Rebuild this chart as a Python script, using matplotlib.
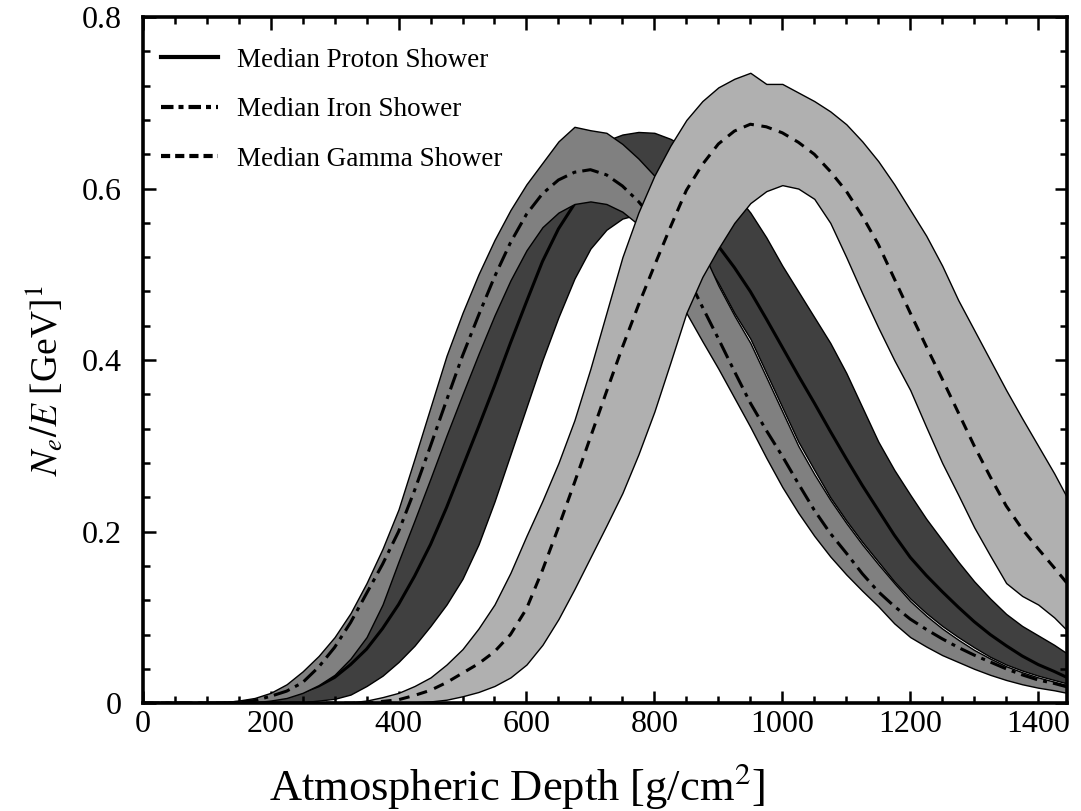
import matplotlib
matplotlib.use('Agg')
import matplotlib.pyplot as plt
from matplotlib.lines import Line2D
from matplotlib.ticker import MultipleLocator, FuncFormatter

plt.rcParams['font.family'] = ['Liberation Serif', 'DejaVu Serif']
plt.rcParams['mathtext.fontset'] = 'stix'

# atmospheric depth grid [g/cm^2]: 0, 100, 125, ..., 1425, 1445
depth = [0] + list(range(100, 1426, 25)) + [1445]

# proton showers
proton_lo = [0, 0, 0, 0, 0, 0, 0, 0.001, 0.003, 0.005, 0.01, 0.02, 0.032,
             0.048, 0.067, 0.09, 0.115, 0.145, 0.185, 0.235, 0.29, 0.345,
             0.4, 0.45, 0.495, 0.53, 0.552, 0.565, 0.57, 0.568, 0.56, 0.545,
             0.52, 0.49, 0.455, 0.425, 0.385, 0.345, 0.305, 0.272, 0.24,
             0.213, 0.188, 0.165, 0.142, 0.122, 0.105, 0.09, 0.077, 0.065,
             0.054, 0.045, 0.038, 0.032, 0.027, 0.023]
proton_hi = [0, 0, 0.001, 0.002, 0.003, 0.006, 0.011, 0.02, 0.03, 0.045,
             0.066, 0.095, 0.133, 0.178, 0.23, 0.283, 0.335, 0.385, 0.432,
             0.475, 0.517, 0.555, 0.585, 0.61, 0.63, 0.645, 0.656, 0.663,
             0.666, 0.665, 0.658, 0.648, 0.633, 0.615, 0.595, 0.572, 0.543,
             0.51, 0.48, 0.45, 0.42, 0.385, 0.345, 0.305, 0.272, 0.243, 0.215,
             0.19, 0.165, 0.142, 0.122, 0.104, 0.09, 0.079, 0.068, 0.058]
proton_med = [0, 0, 0, 0.001, 0.002, 0.004, 0.008, 0.013, 0.02, 0.03, 0.045,
              0.063, 0.087, 0.115, 0.148, 0.185, 0.228, 0.275, 0.322, 0.37,
              0.42, 0.468, 0.515, 0.553, 0.582, 0.601, 0.613, 0.618, 0.615,
              0.606, 0.592, 0.575, 0.556, 0.533, 0.508, 0.48, 0.448, 0.415,
              0.382, 0.35, 0.317, 0.285, 0.254, 0.225, 0.196, 0.17, 0.149,
              0.13, 0.112, 0.095, 0.08, 0.067, 0.055, 0.045, 0.037, 0.03]

# iron showers
iron_lo = [0, 0, 0, 0, 0.001, 0.003, 0.006, 0.012, 0.021, 0.033, 0.052,
           0.077, 0.115, 0.165, 0.213, 0.262, 0.312, 0.36, 0.407, 0.452,
           0.493, 0.528, 0.555, 0.572, 0.582, 0.585, 0.582, 0.573, 0.558,
           0.535, 0.498, 0.455, 0.422, 0.39, 0.356, 0.322, 0.286, 0.252,
           0.222, 0.195, 0.171, 0.15, 0.131, 0.113, 0.093, 0.077, 0.066,
           0.056, 0.048, 0.04, 0.033, 0.027, 0.022, 0.018, 0.015, 0.012]
iron_hi = [0, 0, 0.001, 0.003, 0.006, 0.012, 0.022, 0.037, 0.055, 0.077,
           0.105, 0.14, 0.18, 0.226, 0.285, 0.345, 0.405, 0.455, 0.5, 0.54,
           0.575, 0.605, 0.63, 0.655, 0.672, 0.668, 0.665, 0.652, 0.635, 0.615,
           0.593, 0.565, 0.528, 0.487, 0.452, 0.42, 0.38, 0.34, 0.3, 0.267,
           0.237, 0.21, 0.185, 0.162, 0.14, 0.119, 0.102, 0.087, 0.074, 0.062,
           0.052, 0.043, 0.036, 0.03, 0.025, 0.021]
iron_med = [0, 0, 0, 0.001, 0.003, 0.008, 0.014, 0.024, 0.042, 0.065, 0.094,
            0.128, 0.162, 0.2, 0.248, 0.3, 0.353, 0.405, 0.452, 0.497, 0.537,
            0.57, 0.594, 0.61, 0.619, 0.622, 0.616, 0.603, 0.585, 0.563,
            0.535, 0.5, 0.462, 0.425, 0.387, 0.35, 0.318, 0.288, 0.256, 0.225,
            0.198, 0.175, 0.151, 0.13, 0.113, 0.098, 0.086, 0.075, 0.065,
            0.056, 0.048, 0.04, 0.033, 0.027, 0.023, 0.019]

# gamma showers
gamma_lo = [0, 0, 0, 0, 0, 0, 0, 0, 0, 0, 0, 0, 0, 0, 0.001, 0.002, 0.004,
            0.008, 0.013, 0.02, 0.03, 0.045, 0.068, 0.098, 0.133, 0.17, 0.207,
            0.245, 0.29, 0.34, 0.397, 0.455, 0.497, 0.53, 0.56, 0.583, 0.597,
            0.604, 0.6, 0.588, 0.56, 0.52, 0.478, 0.438, 0.4, 0.365, 0.322,
            0.28, 0.243, 0.205, 0.172, 0.14, 0.125, 0.115, 0.1, 0.085]
gamma_hi = [0, 0, 0, 0, 0, 0, 0, 0, 0, 0, 0.001, 0.003, 0.007, 0.012, 0.02,
            0.03, 0.045, 0.063, 0.087, 0.115, 0.152, 0.195, 0.236, 0.28,
            0.33, 0.39, 0.455, 0.52, 0.572, 0.615, 0.65, 0.68, 0.702, 0.718,
            0.728, 0.735, 0.722, 0.722, 0.712, 0.702, 0.69, 0.675, 0.655,
            0.632, 0.605, 0.575, 0.545, 0.51, 0.47, 0.435, 0.4, 0.365, 0.332,
            0.3, 0.268, 0.24]
gamma_med = [0, 0, 0, 0, 0, 0, 0, 0, 0, 0, 0, 0, 0.002, 0.004, 0.009, 0.015,
             0.024, 0.035, 0.046, 0.06, 0.08, 0.11, 0.155, 0.205, 0.257, 0.31,
             0.363, 0.415, 0.464, 0.51, 0.555, 0.598, 0.628, 0.652, 0.667,
             0.675, 0.672, 0.665, 0.654, 0.64, 0.62, 0.597, 0.568, 0.535,
             0.495, 0.455, 0.416, 0.378, 0.339, 0.3, 0.264, 0.23, 0.203, 0.18,
             0.158, 0.14]

labels = ['Median Proton Shower', 'Median Iron Shower', 'Median Gamma Shower']

iron_dash = (0, (5.5, 2.0, 1.3, 2.0))
gamma_dash = (0, (3.5, 2.5))

fig = plt.figure(figsize=(10.81, 8.11), dpi=100)
ax = fig.add_axes([0.132, 0.133, 0.855, 0.846])

# bands drawn back to front: proton, iron, gamma
ax.fill_between(depth, proton_lo, proton_hi, facecolor='#404040',
                edgecolor='black', linewidth=1.0, zorder=1)
ax.plot(depth, proton_med, color='black', lw=2.2, zorder=2)
ax.fill_between(depth, iron_lo, iron_hi, facecolor='#808080',
                edgecolor='black', linewidth=1.0, zorder=3)
ax.plot(depth, iron_med, color='black', lw=2.2, linestyle=iron_dash, zorder=4)
ax.fill_between(depth, gamma_lo, gamma_hi, facecolor='#b0b0b0',
                edgecolor='black', linewidth=1.0, zorder=5)
ax.plot(depth, gamma_med, color='black', lw=2.2, linestyle=gamma_dash,
        zorder=6)

ax.set_xlim(0, 1445)
ax.set_ylim(0, 0.8)

ax.xaxis.set_major_locator(MultipleLocator(200))
ax.xaxis.set_minor_locator(MultipleLocator(50))
ax.yaxis.set_major_locator(MultipleLocator(0.2))
ax.yaxis.set_minor_locator(MultipleLocator(0.04))
ax.yaxis.set_major_formatter(FuncFormatter(
    lambda v, p: '0' if abs(v) < 1e-9 else '{:.1f}'.format(v)))
ax.tick_params(which='both', direction='in', top=True, right=True,
               labelsize=23, width=1.8)
ax.tick_params(axis='x', pad=5)
ax.tick_params(axis='y', pad=15)
ax.tick_params(which='major', length=9)
ax.tick_params(which='minor', length=5)
for sp in ax.spines.values():
    sp.set_linewidth(2.6)
    sp.set_zorder(10)

ax.set_xlabel('Atmospheric Depth [g/cm$^2$]', fontsize=32)
ax.set_ylabel('$N_e/E$ [GeV]$^1$', fontsize=27)
ax.xaxis.set_label_coords(0.405, -0.085)
ax.yaxis.set_label_coords(-0.083, 0.47)

handles = [Line2D([], [], color='black', lw=3.0),
           Line2D([], [], color='black', lw=3.0, linestyle=(0, (3, 1.2, 1.2, 1.2))),
           Line2D([], [], color='black', lw=3.0, linestyle=(0, (2.2, 1.2)))]
ax.legend(handles, labels, loc='upper left', frameon=False, fontsize=19.5,
          handlelength=2.1, labelspacing=0.9, borderaxespad=0, borderpad=0,
          handletextpad=0.7, bbox_to_anchor=(0.02, 0.955))

fig.savefig('out.png', dpi=100)
